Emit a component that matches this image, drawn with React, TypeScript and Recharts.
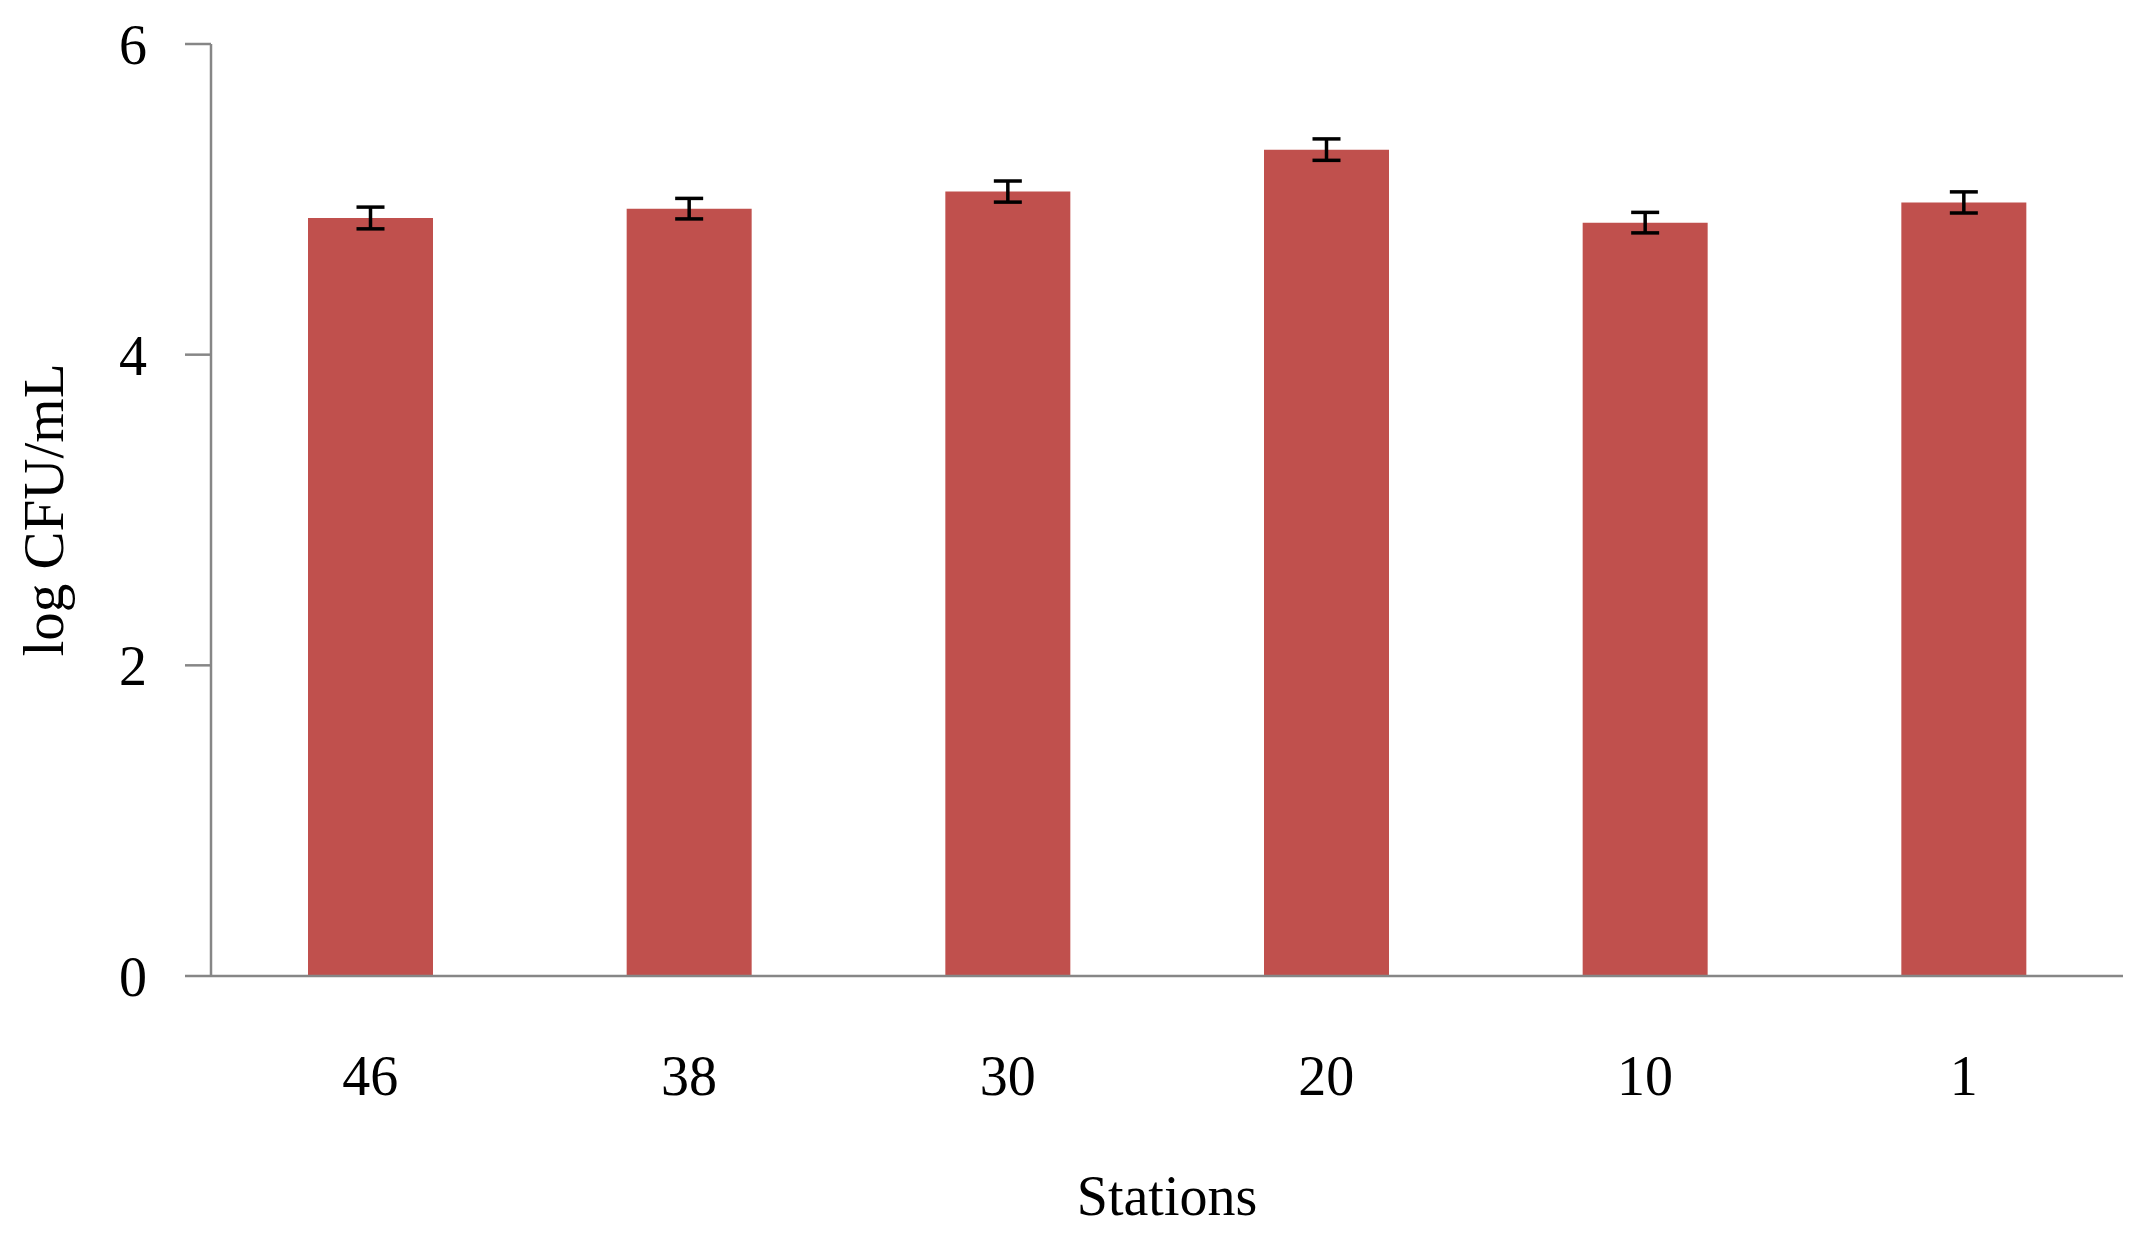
import { BarChart, Bar, XAxis, YAxis, ErrorBar } from "recharts";

const stations = ["46", "38", "30", "20", "10", "1"];
const logCfu = [4.88, 4.94, 5.05, 5.32, 4.85, 4.98];
const stdErr = [0.07, 0.066, 0.068, 0.069, 0.066, 0.068];
const yTicks = [0, 2, 4, 6];

const data = stations.map((s, i) => ({ station: s, value: logCfu[i], err: stdErr[i] }));

const FONT = "'Liberation Serif', 'DejaVu Serif', serif";
const AXIS = "#868686";

interface TitleProps {
    viewBox?: { x: number; y: number; width: number; height: number };
}

function YTitle({ viewBox }: TitleProps) {
    if (!viewBox) return null;
    const cy = viewBox.y + viewBox.height / 2;
    return (
        <text
            x={63}
            y={cy}
            transform={`rotate(-90, 63, ${cy})`}
            textAnchor="middle"
            fontFamily={FONT}
            fontSize={57}
            fill="#000"
        >
            log CFU/mL
        </text>
    );
}

export default function App() {
    return (
        <div style={{ position: "absolute", left: 0, top: 0, background: "#fff" }}>
            <BarChart
                width={2144}
                height={1238}
                data={data}
                margin={{ top: 44, right: 21, left: 0, bottom: 0 }}
            >
                <XAxis
                    dataKey="station"
                    height={262}
                    tickLine={false}
                    tickSize={0}
                    tickMargin={79}
                    axisLine={{ stroke: AXIS, strokeWidth: 2.5 }}
                    tick={{ fill: "#000", fontSize: 56, fontFamily: FONT }}
                    label={{
                        value: "Stations",
                        position: "insideBottom",
                        offset: 23,
                        fill: "#000",
                        fontSize: 56,
                        fontFamily: FONT,
                    }}
                />
                <YAxis
                    width={211}
                    domain={[0, 6]}
                    ticks={yTicks}
                    tickSize={26}
                    tickMargin={38}
                    axisLine={{ stroke: AXIS, strokeWidth: 2.5 }}
                    tickLine={{ stroke: AXIS, strokeWidth: 2.5 }}
                    tick={{ fill: "#000", fontSize: 56, fontFamily: FONT }}
                    label={<YTitle />}
                />
                <Bar dataKey="value" fill="#C0504D" barSize={125} isAnimationActive={false}>
                    <ErrorBar dataKey="err" width={14} strokeWidth={3.5} stroke="#000" isAnimationActive={false} />
                </Bar>
            </BarChart>
        </div>
    );
}
